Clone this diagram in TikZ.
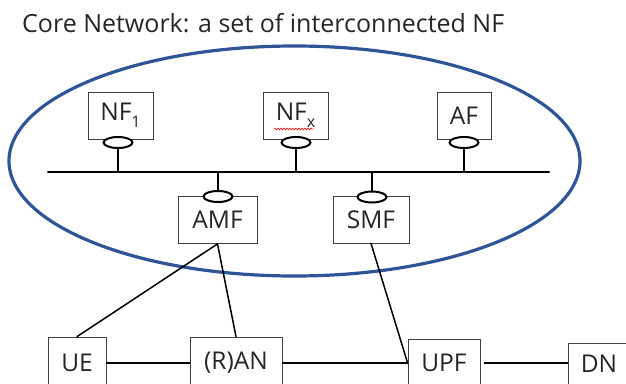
\documentclass[tikz,border=0pt]{standalone}
\usepackage{fontspec}
\setmainfont{Open Sans}
\usetikzlibrary{shapes.geometric,decorations.pathmorphing}
\definecolor{cnblue}{HTML}{2F5597}
\definecolor{txtgray}{HTML}{262626}

\begin{document}
\begin{tikzpicture}[x=1pt,y=-1pt,line cap=round]
    %
    % `nfbox' is used for every function box.
    % `ring' is the small oval that ties a box to the bus.
    % `wire' is used for the plain connectors below the core.
    \tikzstyle{nfbox} = [draw=black!75,line width=0.8pt,fill=white,text=txtgray,inner sep=0pt,minimum height=47pt,font=\fontsize{24.5}{28}\selectfont]
    \tikzstyle{ring} = [draw,ellipse,fill=white,line width=2pt,minimum width=29pt,minimum height=11pt,inner sep=0pt]
    \tikzstyle{wire} = [line width=1.5pt]
    \tikzstyle{stem} = [line width=2pt]
    %
    \useasboundingbox (0,0) rectangle (626,383);
    \clip (0,0) rectangle (626,383);
    %
    % Title
    \node[anchor=base west,inner sep=0pt,text=txtgray,font=\fontsize{25}{28}\selectfont] (title) at (22,32) {Core Network: a set of interconnected NF};
    %
    % Core network
    \draw[cnblue,line width=3.2pt] (294.5,161) ellipse (285.5 and 115);
    \coordinate (busl) at (48,172);
    \coordinate (busr) at (549,172);
    \draw[stem] (busl) -- (busr);
    %
    % Upper row
    \node[nfbox,minimum width=65pt] (nf1) at (120.5,115.5) {NF\raisebox{-0.3em}{\fontsize{16}{16}\selectfont 1}};
    \node[nfbox,minimum width=65pt] (nfx) at (295.5,115.5) {NF\raisebox{-0.3em}{\fontsize{16}{16}\selectfont x}};
    \node[nfbox,minimum width=54pt] (af) at (464,115.5) {AF};
    \draw[red,line width=0.6pt,decorate,decoration={snake,amplitude=0.9pt,segment length=3pt}] (274,129) -- (313,129);
    \node[ring] (r1) at (118,142.5) {};
    \node[ring] (rx) at (296,142.5) {};
    \node[ring] (ra) at (464,142.5) {};
    \draw[stem] (r1) -- (r1 |- busl);
    \draw[stem] (rx) -- (rx |- busl);
    \draw[stem] (ra) -- (ra |- busl);
    %
    % Lower row
    \node[nfbox,minimum width=79pt] (amf) at (217.5,220) {AMF};
    \node[nfbox,minimum width=76pt] (smf) at (371,219.5) {SMF};
    \node[ring] (rm) at (218,196.5) {};
    \node[ring] (rs) at (372,197) {};
    \draw[stem] (rm) -- (rm |- busl);
    \draw[stem] (rs) -- (rs |- busl);
    %
    % Access and user plane
    \node[nfbox,minimum width=58pt,minimum height=52pt] (ue) at (77,363) {UE};
    \node[nfbox,minimum width=92pt,minimum height=52pt] (ran) at (236,363) {(R)AN};
    \node[nfbox,minimum width=72pt,minimum height=48pt] (upf) at (444,363) {UPF};
    \node[nfbox,minimum width=62pt,minimum height=42pt] (dn) at (599,364) {DN};
    %
    % Connectors
    \draw[wire] (amf.south) -- (ue.north);
    \draw[wire] (amf.south) -- (ran.north);
    \draw[wire] (smf.south) -- (upf.west);
    \draw[wire] (ue.east) -- (ran.west);
    \draw[wire] (ran.east) -- (upf.west);
    \draw[wire,shorten <=4pt] (upf.east) -- (upf.east -| dn.west);
    %
\end{tikzpicture}
\end{document}
